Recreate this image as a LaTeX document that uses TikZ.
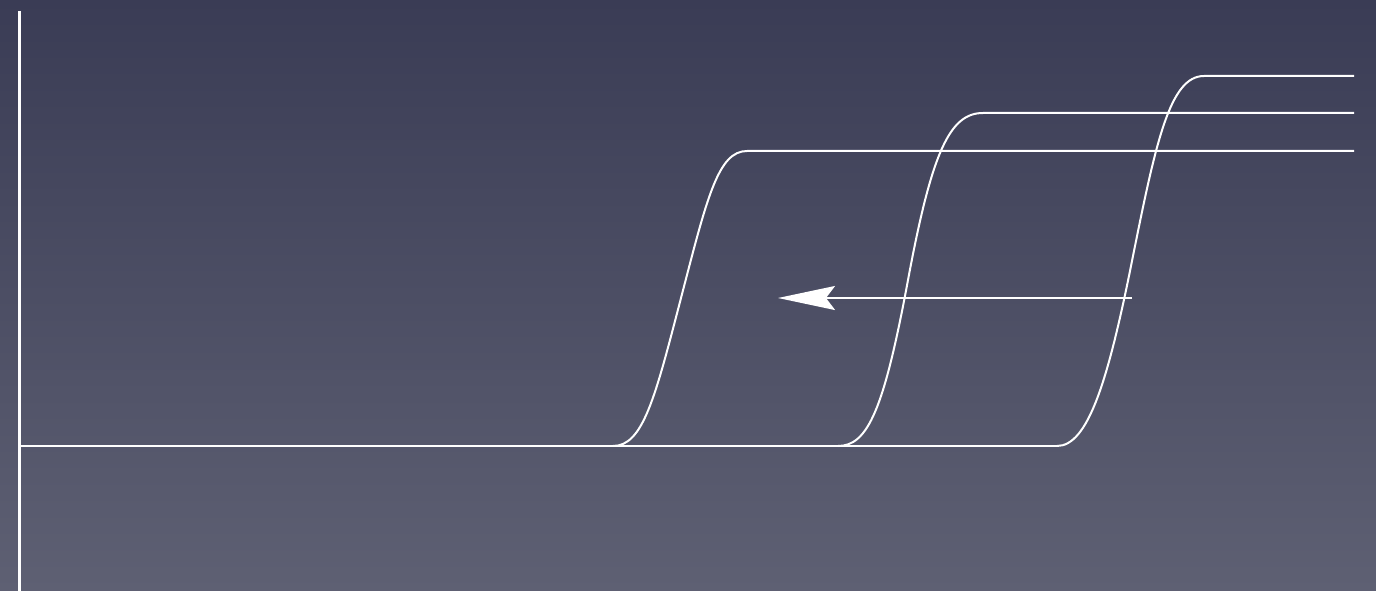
\documentclass[tikz,border=0pt]{standalone}
\usepackage{tikz}
\usetikzlibrary{arrows.meta}
\definecolor{slatetop}{HTML}{3A3C55}
\definecolor{slatebottom}{HTML}{5E6073}
\tikzset{
  axisline/.style={white,line width=3pt},
  stepcurve/.style={white,line width=2pt,line join=round},
}

\begin{document}
\begin{tikzpicture}[x=1pt,y=-1pt,>={Stealth[length=57pt,width=24pt,inset=9pt]}]
  \shade[top color=slatetop,bottom color=slatebottom] (0,0) rectangle (1376,591);
  \useasboundingbox (0,0) rectangle (1376,591);
  \coordinate (O) at (19,446);
  \coordinate (T) at (19,11);
  \coordinate (B) at (19,591);
  \coordinate (E) at (1059,446);
  \coordinate (P) at (1132,298);
  \coordinate (Q) at (778,298);
  \draw[axisline] (T) -- (B);
  \draw[stepcurve] (O) -- (E);
  \draw[stepcurve] (613,446) .. controls (643,446) and (655,398) .. (681,298)
    .. controls (707,198) and (718,151) .. (747,151) -- (1354,151);
  \draw[stepcurve] (838,446) .. controls (868,446) and (884,409) .. (908,280)
    .. controls (932,151) and (950,113) .. (983,113) -- (1354,113);
  \draw[stepcurve] (1057,446) .. controls (1088,446) and (1108,381) .. (1132,261)
    .. controls (1156,141) and (1170,76) .. (1204,76) -- (1354,76);
  \draw[->,white,line width=2pt] (P) -- (Q);
\end{tikzpicture}
\end{document}
